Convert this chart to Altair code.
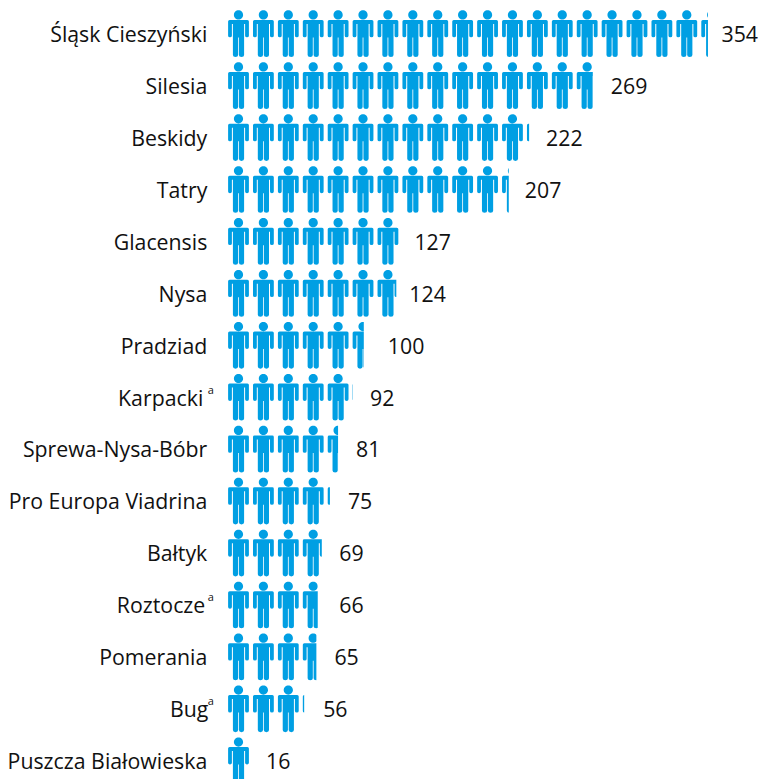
import math
import altair as alt
import pandas as pd

regions = ["Śląsk Cieszyński", "Silesia", "Beskidy", "Tatry", "Glacensis", "Nysa", "Pradziad",
           "Karpacki", "Sprewa-Nysa-Bóbr", "Pro Europa Viadrina", "Bałtyk", "Roztocze",
           "Pomerania", "Bug", "Puszcza Białowieska"]
values = [354, 269, 222, 207, 127, 124, 100, 92, 81, 75, 69, 66, 65, 56, 16]
footnoted = ["Karpacki", "Roztocze", "Bug"]
# gap (px) between a row's clipped end and its number
number_gaps = [13.5, 18, 17, 16, 14, 13, 24, 17, 18, 18, 17.5, 21.5, 18, 19, 16]
# gap (px) between a row's label and the first person
label_gaps = [21, 21, 21, 21, 21, 21, 21, 25, 21, 21, 21, 23, 21, 20, 21]
UNITS_PER_PERSON = 18.38

W, H = 750, 779
PX_PER_UNIT = 1.355
ZERO_PX = 220.3
X_DOMAIN = [-ZERO_PX / PX_PER_UNIT, (W - ZERO_PX) / PX_PER_UNIT]

S = 23.5  # half symbol height in px


def n(x, y):
    return f"{x / S:.4f} {(y - S) / S:.4f}"


def person_path():
    r = 4.6
    cy = 4.5
    head = (f"M{n(-r, cy)} A{r / S:.4f} {r / S:.4f} 0 1 1 {n(r, cy)} "
            f"A{r / S:.4f} {r / S:.4f} 0 1 1 {n(-r, cy)} Z ")
    d = f"M{n(-8.9, 9.5)} L{n(8.9, 9.5)} Q{n(10.4, 9.5)} {n(10.4, 11)} L{n(10.4, 25.3)} "
    d += f"Q{n(10.4, 26.9)} {n(8.5, 26.9)} Q{n(6.6, 26.9)} {n(6.6, 25.3)} L{n(6.6, 13.5)} "
    d += f"L{n(5.6, 13.5)} L{n(5.6, 44.5)} Q{n(5.6, 46.6)} {n(3, 46.6)} Q{n(0.4, 46.6)} {n(0.4, 44.5)} "
    d += f"L{n(0.4, 27)} L{n(-0.4, 27)} L{n(-0.4, 44.5)} Q{n(-0.4, 46.6)} {n(-3, 46.6)} "
    d += f"Q{n(-5.6, 46.6)} {n(-5.6, 44.5)} L{n(-5.6, 13.5)} L{n(-6.6, 13.5)} L{n(-6.6, 25.3)} "
    d += f"Q{n(-6.6, 26.9)} {n(-8.5, 26.9)} Q{n(-10.4, 26.9)} {n(-10.4, 25.3)} L{n(-10.4, 11)} "
    d += f"Q{n(-10.4, 9.5)} {n(-8.9, 9.5)} Z"
    return head + d


rows = pd.DataFrame({"region": regions, "value": values})
rows["number_at"] = rows["value"] + pd.Series(number_gaps) / PX_PER_UNIT
rows["label_at"] = -pd.Series(label_gaps) / PX_PER_UNIT
rows["zero"] = 0
rows["whole"] = [math.ceil(v / UNITS_PER_PERSON) * UNITS_PER_PERSON for v in values]

people = pd.DataFrame([
    {"region": r, "centre": (i + 10.2 / 24.9) * UNITS_PER_PERSON}
    for r, v in zip(regions, values)
    for i in range(math.ceil(v / UNITS_PER_PERSON))
])

notes = rows[rows["region"].isin(footnoted)]

x_scale = alt.Scale(domain=X_DOMAIN, nice=False, zero=False)
y_enc = alt.Y("region:N", sort=regions, axis=None, scale=alt.Scale(paddingInner=0, paddingOuter=0))
FONT = "Open Sans"
SIZE = 21.3
INK = "#111111"

icons = alt.Chart(people).mark_point(
    shape=person_path(), size=(2 * S) ** 2, filled=True, color="#009FE3", opacity=1, strokeWidth=0
).encode(x=alt.X("centre:Q", scale=x_scale, axis=None), y=y_enc)

mask = alt.Chart(rows).mark_rect(color="white", strokeWidth=0).encode(
    x=alt.X("value:Q", scale=x_scale, axis=None), x2="whole:Q", y=y_enc
)

labels = alt.Chart(rows).mark_text(
    align="right", baseline="middle", font=FONT, fontSize=SIZE, color=INK, dy=2
).encode(x=alt.X("label_at:Q", scale=x_scale, axis=None), y=y_enc, text="region:N")

notes_layer = alt.Chart(notes).mark_text(
    align="left", baseline="middle", font=FONT, fontSize=11, color=INK, dx=-20.5, dy=-7
).encode(x=alt.X("zero:Q", scale=x_scale, axis=None), y=y_enc, text=alt.value("a"))

numbers = alt.Chart(rows).mark_text(
    align="left", baseline="middle", font=FONT, fontSize=SIZE, color=INK, dy=2
).encode(x=alt.X("number_at:Q", scale=x_scale, axis=None), y=y_enc, text="value:Q")

chart = alt.layer(icons, mask, labels, notes_layer, numbers).properties(
    width=W, height=H, padding=0, autosize=alt.AutoSizeParams(type="none"), background="white"
).configure_view(stroke=None)

chart.save("out.html", embed_options={"renderer": "svg", "actions": False})
